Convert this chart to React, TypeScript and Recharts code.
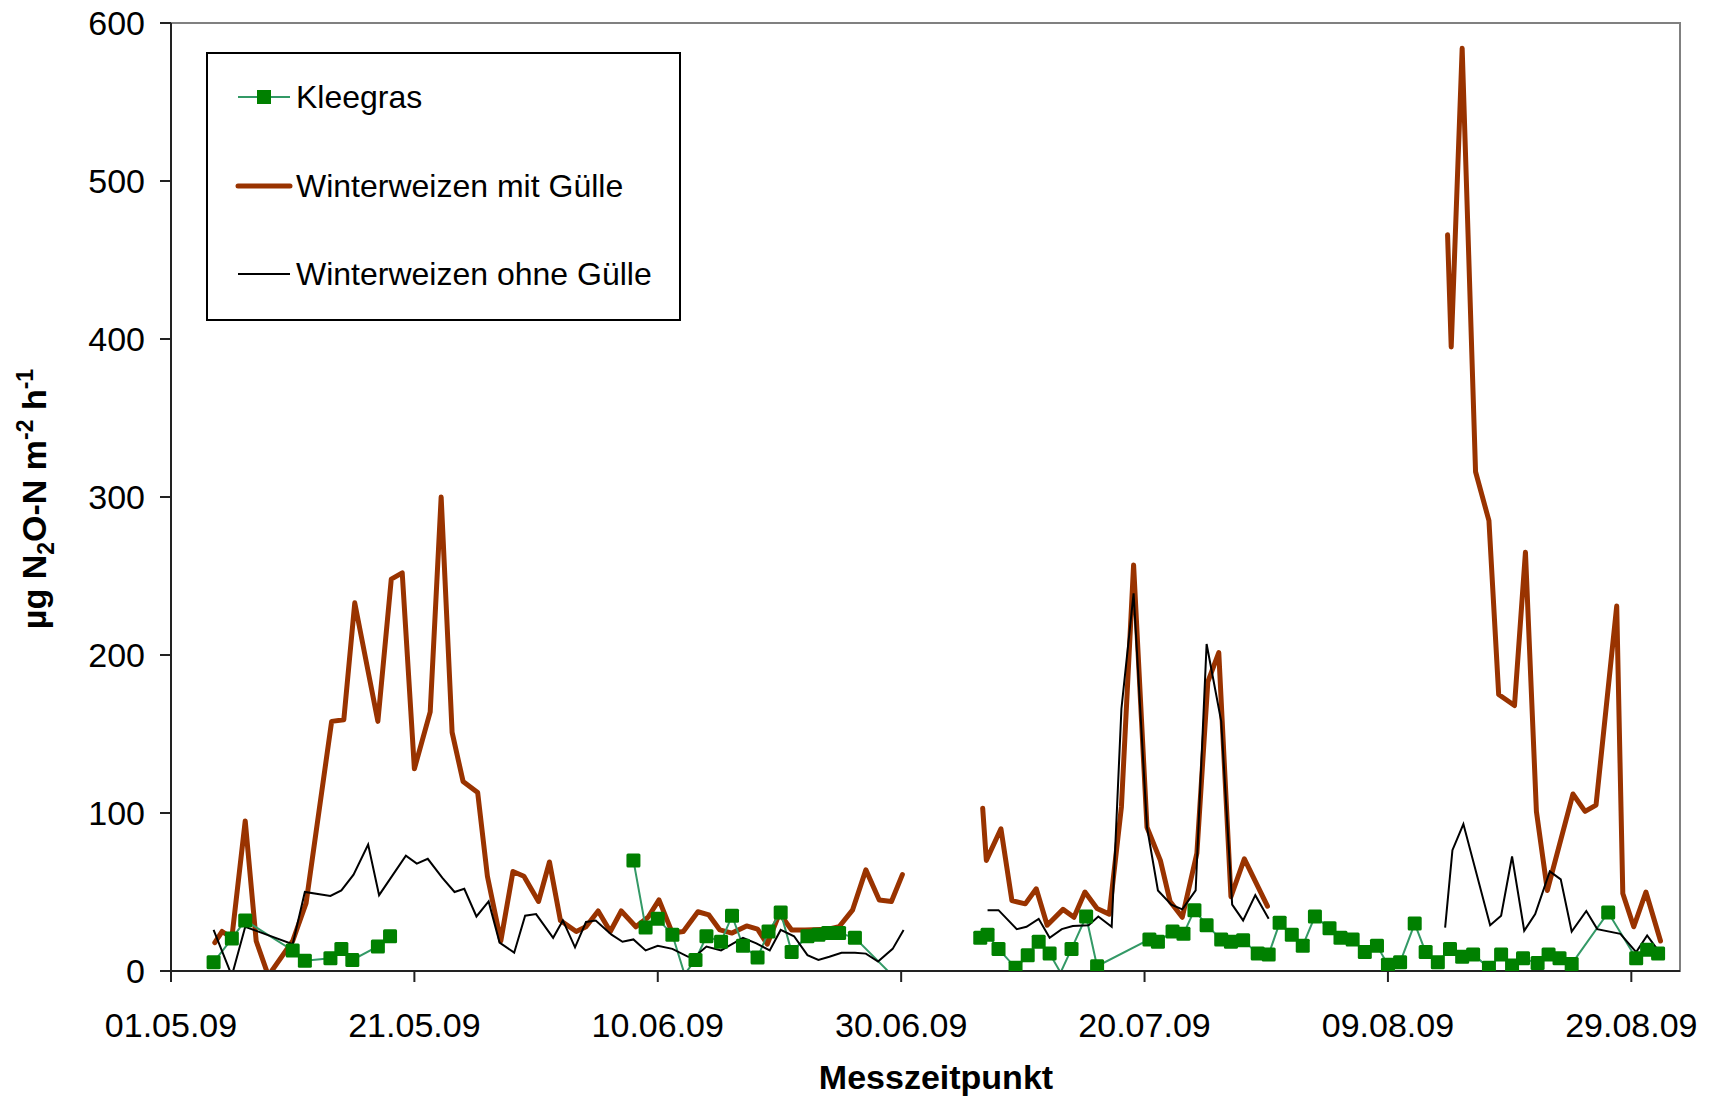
import React from 'react';
import { LineChart, Line, XAxis, YAxis, ReferenceArea } from 'recharts';

// Messtage als Tage ab 01.05.09, null = Messlücke
const kleegras: [number, number | null][] = [
    [3.5, 5.5], [5.0, 20.5], [6.1, 32], [10.0, 13], [11.0, 6.5], [13.1, 8], [14.0, 14], [14.9, 7], [17.0, 15.5], [18.0, 22],
    [28, null],
    [38.0, 70], [39.0, 27.5], [40.0, 33], [41.2, 23], [42.2, -2], [43.1, 7], [44.0, 22], [45.2, 18.5], [46.1, 35], [47.0, 16],
    [48.2, 8.5], [49.1, 25], [50.1, 37], [51.0, 12], [52.3, 22], [53.2, 23], [54.0, 24], [54.9, 24], [56.2, 21], [59.3, -3],
    [63, null],
    [66.5, 21], [67.1, 23], [68.0, 14], [69.4, 2], [70.4, 10], [71.3, 18.5], [72.2, 11], [73.1, -1], [74.0, 14], [75.2, 34.5],
    [76.1, 3], [80.4, 20], [81.1, 18.5], [82.3, 25], [83.2, 23.5], [84.1, 38.5], [85.1, 29], [86.3, 20], [87.1, 18.5],
    [88.1, 19.5], [89.3, 11], [90.2, 10.5], [91.1, 30.5], [92.1, 23], [93.0, 16], [94.0, 34.5], [95.2, 27], [96.1, 21],
    [97.1, 20], [98.1, 12], [99.1, 16], [100.0, 4], [101.0, 5.5], [102.2, 30], [103.1, 12], [104.1, 5.5], [105.1, 14],
    [106.1, 9], [107.0, 10.5], [108.3, 2], [109.3, 10.5], [110.2, 3.5], [111.1, 8], [112.3, 5], [113.2, 10.5], [114.1, 8],
    [115.1, 4.5], [118.1, 37], [120.4, 8], [121.3, 13.5], [122.2, 11],
];

const mitGuelle: [number, number | null][] = [
    [3.6, 18], [4.2, 25], [5.0, 21], [6.1, 95], [7.0, 19], [8.0, -3], [10.0, 19], [11.1, 43], [13.2, 158], [14.2, 159],
    [15.1, 233], [17.0, 158], [18.1, 248], [19.0, 252], [20.0, 128], [21.3, 164], [22.2, 300], [23.1, 151], [24.0, 120],
    [25.2, 113], [26.0, 60], [27.1, 19], [28.1, 63], [29.0, 60], [30.2, 44], [31.1, 69], [32.0, 32], [33.3, 25], [34.1, 28],
    [35.1, 38], [36.1, 25], [37.0, 38], [38.2, 28], [39.2, 34], [40.1, 45], [41.2, 24], [42.1, 25], [43.3, 37.5], [44.2, 35.5],
    [45.1, 26], [46.1, 24], [47.3, 28.5], [48.2, 26.5], [49.0, 17], [50.0, 36.5], [51.0, 26], [52.1, 26], [54.0, 26.5],
    [54.9, 28], [56.0, 38.5], [57.1, 64], [58.2, 45], [59.2, 44], [60.1, 61],
    [63, null],
    [66.7, 103], [67.0, 70], [68.2, 90], [69.1, 44.5], [70.2, 42.5], [71.1, 52], [72.0, 29], [73.3, 39], [74.2, 34], [75.1, 50],
    [76.1, 39.5], [77.1, 36], [78.1, 104], [79.1, 257], [80.2, 91], [81.3, 70], [82.1, 44], [83.1, 34], [84.3, 74.5],
    [85.2, 183], [86.1, 201.5], [87.1, 47], [88.2, 71], [90.1, 41],
    [97, null],
    [104.9, 466], [105.2, 395], [106.1, 584], [107.2, 316], [108.3, 285], [109.1, 175], [110.4, 168], [111.3, 265],
    [112.2, 101], [113.1, 51], [115.2, 112], [116.2, 101], [117.1, 105], [118.8, 231], [119.3, 49], [120.2, 28],
    [121.2, 50], [122.4, 19],
];

const ohneGuelle: [number, number | null][] = [
    [3.5, 26], [5.0, -3], [6.1, 28], [10.0, 17], [11.0, 50], [13.1, 47.5], [14.0, 51], [15.0, 61], [16.2, 80], [17.1, 48],
    [19.3, 73], [20.2, 68], [21.1, 71], [22.3, 59], [23.3, 50], [24.1, 52], [25.1, 34.5], [26.1, 44], [27.0, 18], [28.2, 11.6],
    [29.1, 35], [30.0, 36], [31.4, 21], [32.2, 32], [33.2, 15], [34.1, 31], [34.9, 32], [36.2, 23], [37.1, 18.5], [38.0, 20],
    [39.0, 13], [40.0, 16], [41.2, 14], [42.5, 9], [43.1, 9.5], [44.0, 15.5], [45.2, 13], [46.1, 17], [47.0, 21], [48.1, 17.5],
    [49.2, 13], [50.1, 26], [51.2, 22], [52.3, 10], [53.2, 7], [54.1, 9], [55.1, 11.5], [56.2, 11.5], [57.1, 11], [58.1, 6],
    [59.3, 14], [60.2, 26],
    [63, null],
    [67.1, 38.5], [68.0, 38.5], [69.5, 26.5], [70.3, 28], [71.3, 33], [72.2, 21], [73.2, 26.5], [74.1, 28.5], [75.4, 29],
    [76.2, 34.5], [77.3, 28], [78.1, 166], [79.1, 239], [80.2, 91], [81.1, 51], [82.2, 42], [83.1, 39], [84.2, 51],
    [85.1, 207], [86.3, 158], [87.2, 42], [88.1, 32], [89.1, 48], [90.2, 33],
    [97, null],
    [104.7, 27.5], [105.3, 76.5], [106.2, 93], [108.4, 29], [109.3, 35], [110.2, 72.5], [111.2, 25.5], [112.1, 36],
    [113.3, 63], [114.2, 58], [115.1, 25], [116.3, 38], [117.2, 26.5], [119.1, 23.5], [120.4, 12], [121.3, 22.5], [122.2, 13],
];

const xTicks = [0, 20, 40, 60, 80, 100, 120];
const xTickLabels = ['01.05.09', '21.05.09', '10.06.09', '30.06.09', '20.07.09', '09.08.09', '29.08.09'];
const yTicks = [0, 100, 200, 300, 400, 500, 600];

const FONT = '"Liberation Sans", Arial, sans-serif';
const GREEN_LINE = '#339966';
const GREEN_MARK = '#008000';
const BROWN = '#993300';

const toRows = (pts: [number, number | null][]) => pts.map(([day, value]) => ({ day, value }));

const XTick = (props: any) => {
    const { x, y, payload } = props;
    const label = xTickLabels[xTicks.indexOf(payload.value)];
    return (
        <text x={x} y={y + 41} textAnchor="middle" dominantBaseline="central" fontSize={34} fontFamily={FONT} fill="#000">
            {label}
        </text>
    );
};

const YTick = (props: any) => {
    const { x, y, payload } = props;
    return (
        <text x={x - 13} y={y} textAnchor="end" dominantBaseline="central" fontSize={34} fontFamily={FONT} fill="#000">
            {payload.value}
        </text>
    );
};

// Quadratische Marker, unterhalb der Achse ausgeblendet
const SquareDot = (props: any) => {
    const { cx, cy, value, index } = props;
    if (value == null || value < 0 || cx == null || cy == null) return <g key={index} />;
    return <rect key={index} x={cx - 7} y={cy - 7} width={14} height={14} rx={1.5} fill={GREEN_MARK} />;
};

const YTitle = () => (
    <text
        transform="translate(46,499) rotate(-90)"
        textAnchor="middle"
        fontSize={34}
        fontWeight="bold"
        fontFamily={FONT}
        fill="#000"
    >
        <tspan>µg N</tspan>
        <tspan fontSize={23} dy={8}>2</tspan>
        <tspan dy={-8}>O-N m</tspan>
        <tspan fontSize={23} dy={-13}>-2</tspan>
        <tspan dy={13}> h</tspan>
        <tspan fontSize={23} dy={-13}>-1</tspan>
    </text>
);

const LegendBox = () => (
    <div
        style={{
            position: 'absolute',
            left: 206,
            top: 52,
            width: 471,
            height: 265,
            border: '2px solid #000',
            background: '#fff',
            fontFamily: FONT,
            fontSize: 32,
        }}
    >
        {[
            { name: 'Kleegras', y: 43, kind: 'square' },
            { name: 'Winterweizen mit Gülle', y: 132, kind: 'brown' },
            { name: 'Winterweizen ohne Gülle', y: 220, kind: 'black' },
        ].map((e) => (
            <div key={e.name} style={{ position: 'absolute', left: 0, top: e.y - 20, height: 40, display: 'flex', alignItems: 'center' }}>
                <svg width={88} height={40} style={{ display: 'block' }}>
                    {e.kind === 'square' && (
                        <>
                            <line x1={30} x2={82} y1={20} y2={20} stroke={GREEN_LINE} strokeWidth={2} />
                            <rect x={49} y={13} width={14} height={14} fill={GREEN_MARK} />
                        </>
                    )}
                    {e.kind === 'brown' && <line x1={30} x2={82} y1={20} y2={20} stroke={BROWN} strokeWidth={5} strokeLinecap="round" />}
                    {e.kind === 'black' && <line x1={30} x2={82} y1={20} y2={20} stroke="#000" strokeWidth={2} />}
                </svg>
                <span style={{ whiteSpace: 'nowrap' }}>{e.name}</span>
            </div>
        ))}
    </div>
);

export default function App() {
    return (
        <div style={{ position: 'absolute', left: 0, top: 0, width: 1720, height: 1097, background: '#fff' }}>
            <LineChart width={1720} height={1097} margin={{ top: 23, right: 40, bottom: 0, left: 0 }}>
                <XAxis
                    dataKey="day"
                    type="number"
                    domain={[0, 124]}
                    ticks={xTicks}
                    interval={0}
                    height={126}
                    stroke="#222"
                    strokeWidth={2}
                    tickSize={11}
                    tick={<XTick />}
                    allowDataOverflow
                />
                <YAxis
                    type="number"
                    domain={[0, 600]}
                    ticks={yTicks}
                    interval={0}
                    width={171}
                    stroke="#222"
                    strokeWidth={2}
                    tickSize={11}
                    tick={<YTick />}
                    allowDataOverflow
                    label={<YTitle />}
                />
                <ReferenceArea x1={0} x2={124} y1={0} y2={600} fill="none" stroke="#808080" strokeWidth={2} ifOverflow="visible" />
                <Line
                    data={toRows(mitGuelle)}
                    dataKey="value"
                    name="Winterweizen mit Gülle"
                    stroke={BROWN}
                    strokeWidth={5}
                    strokeLinejoin="round"
                    strokeLinecap="round"
                    dot={false}
                    connectNulls={false}
                    isAnimationActive={false}
                />
                <Line
                    data={toRows(kleegras)}
                    dataKey="value"
                    name="Kleegras"
                    stroke={GREEN_LINE}
                    strokeWidth={2}
                    dot={SquareDot}
                    activeDot={false}
                    connectNulls={false}
                    isAnimationActive={false}
                />
                <Line
                    data={toRows(ohneGuelle)}
                    dataKey="value"
                    name="Winterweizen ohne Gülle"
                    stroke="#000"
                    strokeWidth={2}
                    dot={false}
                    connectNulls={false}
                    isAnimationActive={false}
                />
                <text x={936} y={1077} textAnchor="middle" dominantBaseline="central" fontSize={34} fontWeight="bold" fontFamily={FONT}>
                    Messzeitpunkt
                </text>
            </LineChart>
            <LegendBox />
        </div>
    );
}
